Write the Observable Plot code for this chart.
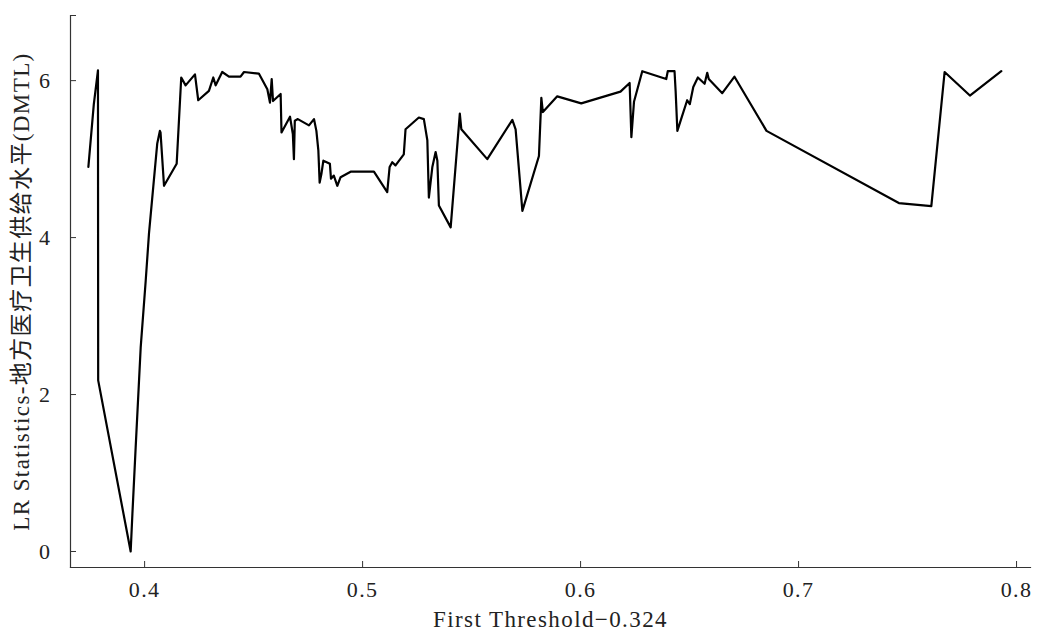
<!DOCTYPE html>
<html>
<head>
<meta charset="utf-8">
<script src="https://cdn.jsdelivr.net/npm/d3@7"></script>
<script src="https://cdn.jsdelivr.net/npm/@observablehq/plot@0.6"></script>
<style>
  html, body { margin: 0; padding: 0; background: #fff; }
  #chart svg { display: block; }
</style>
</head>
<body>
<div id="chart"></div>
<script>
const thresholds = [0.3742,0.3767,0.3786,0.3787,0.3936,0.3944,0.3959,0.3982,0.4005,0.4020,0.4058,0.4070,0.4073,0.4089,0.4147,0.4168,0.4188,0.4231,0.4246,0.4295,0.4315,0.4326,0.4356,0.4387,0.4440,0.4456,0.4524,0.4563,0.4575,0.4583,0.4589,0.4624,0.4628,0.4667,0.4680,0.4685,0.4689,0.4703,0.4754,0.4777,0.4788,0.4797,0.4803,0.4811,0.4820,0.4850,0.4855,0.4868,0.4884,0.4899,0.4945,0.5052,0.5113,0.5124,0.5136,0.5151,0.5189,0.5197,0.5258,0.5281,0.5297,0.5304,0.5320,0.5335,0.5343,0.5350,0.5404,0.5446,0.5453,0.5572,0.5687,0.5702,0.5733,0.5809,0.5820,0.5827,0.5893,0.6003,0.6183,0.6225,0.6233,0.6245,0.6283,0.6393,0.6400,0.6431,0.6436,0.6444,0.6459,0.6489,0.6501,0.6517,0.6538,0.6569,0.6581,0.6588,0.6650,0.6706,0.6853,0.7460,0.7609,0.7670,0.7786,0.7930];
const lrStats = [4.90,5.70,6.13,2.18,0.00,0.48,1.33,2.60,3.45,4.05,5.20,5.36,5.34,4.66,4.94,6.04,5.94,6.08,5.75,5.87,6.04,5.94,6.11,6.05,6.05,6.11,6.09,5.89,5.72,6.02,5.74,5.83,5.34,5.54,5.32,5.00,5.49,5.51,5.43,5.51,5.36,5.11,4.70,4.81,4.98,4.94,4.75,4.79,4.66,4.77,4.84,4.84,4.58,4.90,4.96,4.92,5.06,5.38,5.53,5.51,5.24,4.51,4.90,5.09,4.98,4.41,4.13,5.58,5.38,5.00,5.50,5.38,4.34,5.04,5.78,5.60,5.80,5.71,5.86,5.97,5.28,5.73,6.12,6.02,6.12,6.12,5.87,5.36,5.49,5.75,5.70,5.92,6.04,5.96,6.10,6.02,5.84,6.05,5.36,4.44,4.40,6.11,5.81,6.12];
const xTicks = [0.4, 0.5, 0.6, 0.7, 0.8];
const yTicks = [0, 2, 4, 6];
const xLabel = "First Threshold\u22120.324";
const yLabel = "LR Statistics-地方医疗卫生供给水平(DMTL)";
const xDomain = [0.366, 0.8064];
const yDomain = [-0.204, 6.83];

const data = thresholds.map((t, i) => ({x: t, y: lrStats[i]}));
const font = "'Liberation Serif', 'Noto Sans CJK SC', serif";

const chart = Plot.plot({
  width: 1039,
  height: 633,
  marginLeft: 70,
  marginRight: 9,
  marginTop: 15,
  marginBottom: 66,
  style: {fontFamily: font, fontSize: "22px", color: "#222", background: "#fff", letterSpacing: "1.4px"},
  x: {domain: xDomain},
  y: {domain: yDomain},
  marks: [
    Plot.frame({anchor: "left", stroke: "#333", strokeWidth: 1.2}),
    Plot.frame({anchor: "bottom", stroke: "#333", strokeWidth: 1.2}),
    Plot.axisX({ticks: xTicks, tickFormat: d3.format(".1f"), tickSize: -6, tickPadding: 20, label: null, stroke: "#333"}),
    Plot.axisY({ticks: yTicks, tickFormat: d3.format("d"), tickSize: -6, tickPadding: 25, label: null, stroke: "#333"}),
    Plot.axisY({ticks: [yDomain[1]], tickFormat: () => "", tickSize: -6, label: null, stroke: "#333"}),
    Plot.axisX({ticks: [], label: xLabel, labelAnchor: "center", labelOffset: 59, labelArrow: "none", fontSize: 23}),
    Plot.axisY({ticks: [], label: yLabel, labelAnchor: "center", labelOffset: 58, labelArrow: "none", fontSize: 23}),
    Plot.line(data, {x: "x", y: "y", stroke: "#000", strokeWidth: 2.2, strokeLinejoin: "round"})
  ]
});
document.getElementById("chart").appendChild(chart);
</script>
</body>
</html>
